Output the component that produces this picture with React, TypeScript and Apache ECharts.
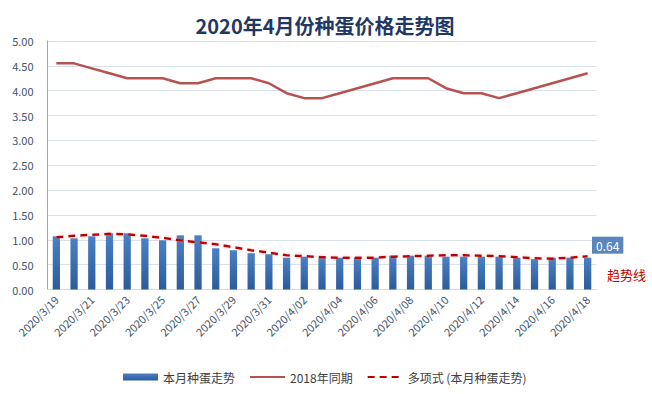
import React, { useEffect, useRef } from "react";
import * as echarts from "echarts";

const categories = [
  "2020/3/19", "2020/3/20", "2020/3/21", "2020/3/22", "2020/3/23", "2020/3/24",
  "2020/3/25", "2020/3/26", "2020/3/27", "2020/3/28", "2020/3/29", "2020/3/30",
  "2020/3/31", "2020/4/01", "2020/4/02", "2020/4/03", "2020/4/04", "2020/4/05",
  "2020/4/06", "2020/4/07", "2020/4/08", "2020/4/09", "2020/4/10", "2020/4/11",
  "2020/4/12", "2020/4/13", "2020/4/14", "2020/4/15", "2020/4/16", "2020/4/17",
  "2020/4/18",
];

const currentMonth = [
  1.07, 1.03, 1.07, 1.13, 1.13, 1.03, 0.99, 1.09, 1.09, 0.83, 0.79, 0.73,
  0.71, 0.64, 0.66, 0.64, 0.64, 0.64, 0.64, 0.68, 0.68, 0.68, 0.66, 0.66,
  0.66, 0.66, 0.64, 0.61, 0.64, 0.64, 0.64,
];

const sameperiod2018 = [
  4.55, 4.55, 4.45, 4.35, 4.25, 4.25, 4.25, 4.15, 4.15, 4.25, 4.25, 4.25,
  4.15, 3.95, 3.85, 3.85, 3.95, 4.05, 4.15, 4.25, 4.25, 4.25, 4.05, 3.95,
  3.95, 3.85, 3.95, 4.05, 4.15, 4.25, 4.35,
];

const trendValues = [
  1.05, 1.08, 1.1, 1.12, 1.11, 1.08, 1.04, 0.99, 0.95, 0.91, 0.85, 0.79,
  0.74, 0.69, 0.67, 0.65, 0.64, 0.64, 0.64, 0.66, 0.67, 0.68, 0.69, 0.69,
  0.68, 0.67, 0.65, 0.63, 0.62, 0.64, 0.67,
];

const seriesNames = ["本月种蛋走势", "2018年同期", "多项式 (本月种蛋走势)"];
const titleText = "2020年4月份种蛋价格走势图";
const trendNote = "趋势线";

export default function App() {
  const ref = useRef<HTMLDivElement>(null);

  useEffect(() => {
    if (!ref.current) return;
    const chart = echarts.init(ref.current, null, { renderer: "svg" });
    const font = "'Noto Sans CJK SC', 'Noto Sans', sans-serif";
    const lastIdx = currentMonth.length - 1;
    const barData = currentMonth.map((v, i) =>
      i === lastIdx
        ? {
            value: v,
            label: {
              show: true,
              position: [8, -21],
              align: "left",
              verticalAlign: "top",
              formatter: (p: any) => Number(p.value).toFixed(2),
              color: "#ffffff",
              fontSize: 12,
              fontFamily: font,
              backgroundColor: "#5B86BC",
              padding: [3, 4, 2, 4],
            },
          }
        : v
    );

    chart.setOption({
      animation: false,
      backgroundColor: "#ffffff",
      textStyle: { fontFamily: font },
      title: {
        text: titleText,
        left: 320,
        textAlign: "center",
        top: 10,
        textStyle: {
          fontSize: 20,
          fontWeight: "bold",
          color: "#1F3864",
          fontFamily: font,
        },
      },
      legend: {
        top: 366,
        left: 118,
        itemWidth: 35,
        itemHeight: 7,
        itemGap: 14,
        textStyle: { fontSize: 12, color: "#404040", fontFamily: font },
        data: [
          { name: seriesNames[0], icon: "rect" },
          { name: seriesNames[1], itemStyle: { opacity: 0 } },
          { name: seriesNames[2], itemStyle: { opacity: 0 } },
        ],
      },
      grid: { left: 47.5, right: 55.5, top: 41, bottom: 104.5 },
      xAxis: {
        type: "category",
        data: categories,
        axisLine: { lineStyle: { color: "#D9D9D9" } },
        axisTick: { show: false },
        axisLabel: {
          interval: 1,
          rotate: 45,
          fontSize: 11,
          color: "#44546A",
          margin: 8,
          fontFamily: font,
        },
      },
      yAxis: {
        type: "value",
        min: 0,
        max: 5,
        interval: 0.5,
        axisLine: { show: true, lineStyle: { color: "#A6A6A6" } },
        axisTick: { show: false },
        splitLine: { lineStyle: { color: "#D9E1EC" } },
        axisLabel: {
          fontSize: 11,
          color: "#44546A",
          margin: 14,
          formatter: (v: number) => v.toFixed(2),
          fontFamily: font,
        },
      },
      series: [
        {
          name: seriesNames[0],
          type: "bar",
          data: barData,
          barWidth: "41%",
          itemStyle: {
            color: new echarts.graphic.LinearGradient(0, 0, 0, 1, [
              { offset: 0, color: "#4A80C4" },
              { offset: 1, color: "#2C5C9A" },
            ]),
          },
          z: 2,
        },
        {
          name: seriesNames[1],
          type: "line",
          data: sameperiod2018,
          symbol: "none",
          lineStyle: { color: "#B65350", width: 2.5 },
          itemStyle: { color: "#B65350" },
          z: 3,
        },
        {
          name: seriesNames[2],
          type: "line",
          data: trendValues,
          symbol: "none",
          lineStyle: {
            color: "#C00000",
            width: 2.5,
            type: [7, 5],
            shadowColor: "rgba(255,140,140,0.5)",
            shadowBlur: 3,
          },
          itemStyle: { color: "#C00000" },
          z: 4,
        },
      ],
      graphic: [
        {
          type: "text",
          left: 607,
          top: 268,
          style: {
            text: trendNote,
            fill: "#C00000",
            fontSize: 13,
            fontFamily: font,
          },
        },
      ],
    });

    return () => chart.dispose();
  }, []);

  return (
    <div
      ref={ref}
      style={{ position: "fixed", left: 0, top: 0, width: 652, height: 394 }}
    />
  );
}
